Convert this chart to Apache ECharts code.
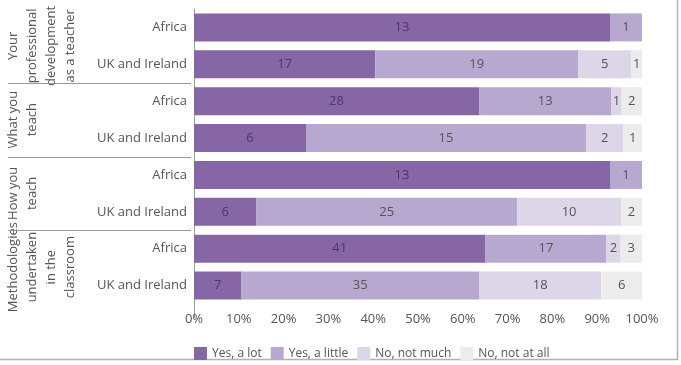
<!DOCTYPE html>
<html>
<head>
    <meta charset="utf-8">
    <title>Changes to teaching</title>
    <script src="https://cdn.jsdelivr.net/npm/echarts@6/dist/echarts.min.js"></script>
    <style>
        html, body { margin: 0; padding: 0; background: #fff; }
    </style>
</head>
<body>
    <div id="main" style="width: 681px; height: 365px;"></div>
    <script>
        var rows = ['Africa', 'UK and Ireland', 'Africa', 'UK and Ireland',
            'Africa', 'UK and Ireland', 'Africa', 'UK and Ireland'];
        var groups = [
            'Your\nprofessional\ndevelopment\nas a teacher',
            'What you\nteach',
            'How you\nteach',
            'Methodologies\nundertaken\nin the\nclassroom'
        ];
        var seriesNames = ['Yes, a lot', 'Yes, a little', 'No, not much', 'No, not at all'];
        // counts per row, in the order of rows
        var yesALot = [13, 17, 28, 6, 13, 6, 41, 7];
        var yesALittle = [1, 19, 13, 15, 1, 25, 17, 35];
        var noNotMuch = [0, 5, 1, 2, 0, 10, 2, 18];
        var noNotAtAll = [0, 1, 2, 1, 0, 2, 3, 6];
        var xTicks = [0, 10, 20, 30, 40, 50, 60, 70, 80, 90, 100];

        var colors = ['#8766a6', '#b7a8d0', '#ddd5e8', '#ececec'];
        var labelColors = ['#4a3a66', '#555', '#555', '#555'];
        var FONT = 'Open Sans';
        var FS = 13;

        var counts = [yesALot, yesALittle, noNotMuch, noNotAtAll];
        var totals = rows.map(function (r, i) {
            return counts.reduce(function (s, c) { return s + c[i]; }, 0);
        });

        var chart = echarts.init(document.getElementById('main'));

        var series = counts.map(function (c, k) {
            return {
                name: seriesNames[k],
                type: 'bar',
                stack: 'all',
                barWidth: 28,
                itemStyle: { color: colors[k] },
                label: {
                    show: true,
                    position: 'inside',
                    fontFamily: FONT,
                    fontSize: FS,
                    color: labelColors[k],
                    formatter: function (p) {
                        var v = c[p.dataIndex];
                        return v ? String(v) : '';
                    }
                },
                data: c.map(function (v, i) { return v / totals[i] * 100; })
            };
        });

        chart.setOption({
            animation: false,
            textStyle: { fontFamily: FONT },
            grid: { left: 194, right: 39, top: 9, bottom: 61 },
            legend: {
                left: 189,
                top: 342,
                icon: 'rect',
                itemWidth: 13,
                itemHeight: 13,
                itemGap: 9,
                textStyle: { fontFamily: FONT, fontSize: 12, color: '#555' },
                data: seriesNames
            },
            xAxis: {
                type: 'value',
                min: xTicks[0],
                max: xTicks[xTicks.length - 1],
                interval: 10,
                axisLine: { show: false },
                axisTick: { show: false },
                splitLine: { show: false },
                axisLabel: {
                    margin: 9,
                    fontSize: FS,
                    color: '#555',
                    formatter: '{value}%'
                }
            },
            yAxis: {
                type: 'category',
                inverse: true,
                data: rows,
                axisLine: { show: true, lineStyle: { color: '#999', width: 1 } },
                axisTick: { show: false },
                axisLabel: { margin: 7, fontSize: FS, color: '#555' }
            },
            series: series
        });

        // group labels and separators beside the category axis
        var graphics = [];
        var axisX = chart.convertToPixel({ gridIndex: 0 }, [0, 0])[0];
        var rowY = rows.map(function (r, i) {
            return chart.convertToPixel({ yAxisIndex: 0 }, i);
        });
        var band = rowY[1] - rowY[0];
        groups.forEach(function (g, k) {
            var midY = (rowY[k * 2] + rowY[k * 2 + 1]) / 2;
            graphics.push({
                type: 'text',
                x: 4,
                y: midY,
                rotation: Math.PI / 2,
                style: {
                    text: g,
                    fontFamily: FONT,
                    fontSize: FS,
                    lineHeight: 19,
                    fill: '#555',
                    align: 'center',
                    verticalAlign: 'top'
                }
            });
            if (k > 0) {
                var sepY = Math.round(rowY[k * 2] - band / 2) + 0.5;
                graphics.push({
                    type: 'line',
                    shape: { x1: 8, y1: sepY, x2: axisX - 3, y2: sepY },
                    style: { stroke: '#999', lineWidth: 1 }
                });
            }
        });
        var bottomY = rowY[rows.length - 1] + band / 2;
        graphics.push({
            type: 'line',
            shape: { x1: axisX + 0.5, y1: bottomY, x2: axisX + 0.5, y2: bottomY + 14 },
            style: { stroke: '#999', lineWidth: 1 }
        });
        // outer frame
        graphics.push({
            type: 'rect',
            shape: { x: -2, y: -2, width: 679.5, height: 361.5 },
            style: { fill: 'none', stroke: '#b8a9cf', lineWidth: 1.5 }
        });
        chart.setOption({ graphic: graphics });
    </script>
</body>
</html>
